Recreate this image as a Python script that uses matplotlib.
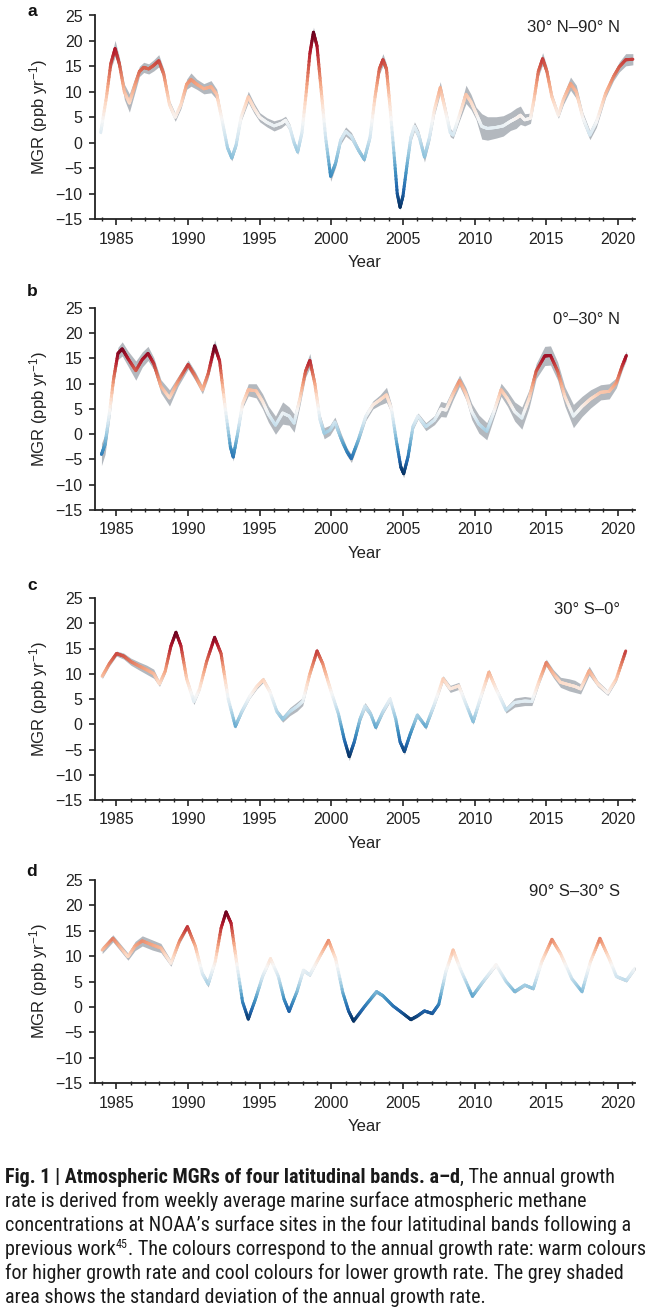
import numpy as np
import matplotlib
matplotlib.use("Agg")
import matplotlib.pyplot as plt
from matplotlib import font_manager
from matplotlib.collections import LineCollection
from matplotlib.colors import Normalize

plt.rcParams['font.family'] = ['Liberation Sans', 'DejaVu Sans']
plt.rcParams['mathtext.fontset'] = 'custom'
plt.rcParams['mathtext.rm'] = 'Liberation Sans'
plt.rcParams['mathtext.default'] = 'regular'

# ---- data: year, growth rate (ppb/yr), std dev ----
years_a = [1983.9, 1984.3, 1984.6, 1984.9, 1985.2, 1985.55, 1985.9, 1986.25, 1986.6, 1986.9,
           1987.25, 1987.6, 1987.95, 1988.3, 1988.7, 1989.1, 1989.5, 1989.9, 1990.2, 1990.6,
           1991.1, 1991.6, 1992.0, 1992.4, 1992.75, 1993.05, 1993.35, 1993.7, 1994.2, 1994.6,
           1995.0, 1995.5, 1996.0, 1996.5, 1996.8, 1997.1, 1997.4, 1997.65, 1997.95, 1998.25,
           1998.5, 1998.75, 1999.0, 1999.3, 1999.6, 1999.95, 2000.3, 2000.65, 2001.0, 2001.4,
           2001.9, 2002.3, 2002.7, 2003.05, 2003.35, 2003.6, 2003.85, 2004.1, 2004.4, 2004.6,
           2004.8, 2005.0, 2005.3, 2005.55, 2005.8, 2006.1, 2006.5, 2006.85, 2007.2, 2007.6,
           2007.95, 2008.3, 2008.5, 2008.9, 2009.4, 2009.75, 2010.1, 2010.5, 2010.9, 2011.5,
           2012.0, 2012.5, 2012.9, 2013.2, 2013.5, 2013.9, 2014.15, 2014.45, 2014.75, 2015.05,
           2015.4, 2015.85, 2016.2, 2016.7, 2017.1, 2017.55, 2018.05, 2018.5, 2019.15, 2019.7,
           2020.1, 2020.55, 2021.05]
mgr_a = [2.0, 9.0, 15.5, 18.5, 15.5, 10.0, 7.8, 11.0, 14.0, 14.8,
         14.5, 15.2, 16.1, 13.5, 7.5, 5.0, 7.5, 11.5, 12.4, 11.5,
         10.6, 11.0, 9.5, 4.0, -1.0, -3.0, -0.5, 5.0, 9.0, 6.8,
         5.0, 4.0, 3.3, 3.8, 4.4, 3.0, 0.0, -1.8, 2.0, 10.0,
         17.5, 21.7, 19.0, 10.0, 1.0, -6.6, -4.0, 0.5, 2.2, 1.2,
         -1.5, -3.3, 1.0, 9.0, 14.5, 16.3, 14.5, 7.0, -3.0, -10.0,
         -12.7, -10.5, -4.0, 1.0, 3.2, 1.5, -2.8, 1.0, 6.5, 10.8,
         6.5, 2.0, 1.5, 5.0, 9.5, 8.0, 5.8, 3.2, 2.8, 3.0,
         3.3, 4.2, 4.8, 5.4, 4.5, 4.8, 8.5, 14.0, 16.5, 14.0,
         9.0, 5.4, 8.5, 11.6, 10.0, 5.0, 1.5, 4.0, 9.7, 13.0,
         14.9, 16.3, 16.4]
sd_a = [0.3, 0.5, 1.0, 1.6, 1.3, 1.5, 1.8, 1.5, 1.0, 1.0,
        1.0, 1.1, 1.2, 1.0, 0.8, 0.8, 0.8, 1.0, 1.3, 1.0,
        1.0, 1.2, 1.0, 0.6, 0.5, 0.6, 0.5, 0.7, 1.1, 1.0,
        0.9, 0.9, 1.0, 0.9, 0.8, 0.7, 0.5, 0.5, 0.5, 0.7,
        0.9, 1.0, 0.9, 0.7, 0.8, 1.0, 0.8, 0.8, 0.9, 0.8,
        0.6, 0.5, 0.5, 0.8, 1.0, 1.2, 1.0, 0.8, 0.6, 0.5,
        0.5, 0.5, 0.6, 0.8, 0.9, 0.9, 1.0, 0.9, 1.0, 1.2,
        1.0, 0.8, 0.7, 1.0, 1.8, 1.5, 1.2, 2.5, 2.3, 2.1,
        2.0, 1.8, 2.0, 1.8, 1.2, 1.0, 0.9, 1.0, 1.2, 1.0,
        0.8, 0.6, 1.0, 1.3, 1.3, 1.0, 0.9, 1.0, 0.8, 0.8,
        1.0, 1.2, 1.1]

years_b = [1983.95, 1984.2, 1984.5, 1984.8, 1985.1, 1985.4, 1985.8, 1986.35, 1986.8, 1987.2,
           1987.6, 1988.1, 1988.7, 1989.3, 1990.0, 1990.5, 1991.0, 1991.4, 1991.85, 1992.2,
           1992.6, 1992.95, 1993.15, 1993.45, 1993.8, 1994.2, 1994.75, 1995.2, 1995.6, 1996.1,
           1996.6, 1997.05, 1997.4, 1997.8, 1998.2, 1998.5, 1998.85, 1999.2, 1999.5, 1999.9,
           2000.25, 2000.7, 2001.1, 2001.4, 2001.9, 2002.4, 2002.9, 2003.4, 2003.85, 2004.2,
           2004.55, 2004.85, 2005.05, 2005.35, 2005.7, 2006.05, 2006.6, 2007.2, 2007.65, 2008.0,
           2008.5, 2008.95, 2009.4, 2009.8, 2010.3, 2010.85, 2011.3, 2011.85, 2012.3, 2012.8,
           2013.3, 2013.8, 2014.3, 2014.9, 2015.3, 2015.8, 2016.3, 2016.9, 2017.5, 2018.1,
           2018.8, 2019.4, 2019.9, 2020.3, 2020.6]
mgr_b = [-4.0, -2.0, 4.0, 11.0, 16.0, 16.9, 15.0, 12.6, 14.8, 16.0,
         14.0, 9.5, 7.2, 10.5, 13.8, 11.5, 8.8, 12.0, 17.5, 14.5,
         5.0, -2.5, -4.5, 0.0, 6.0, 8.8, 8.6, 6.5, 4.0, 1.8,
         4.2, 3.6, 2.2, 7.0, 12.5, 14.6, 10.0, 3.0, 0.2, 0.8,
         2.4, -1.0, -3.5, -4.8, -1.0, 3.5, 5.8, 6.8, 7.8, 5.0,
         -1.5, -6.5, -7.8, -4.5, 1.5, 3.6, 1.5, 2.8, 5.0, 4.8,
         8.0, 10.6, 8.0, 4.5, 2.0, 0.6, 4.0, 8.8, 7.0, 4.5,
         3.2, 7.0, 12.5, 15.5, 15.6, 12.5, 7.5, 3.6, 5.5, 7.0,
         8.3, 8.5, 10.2, 13.5, 15.6]
sd_b = [2.2, 2.0, 1.5, 1.2, 1.2, 1.4, 1.5, 1.9, 1.5, 1.4,
        1.2, 1.3, 1.6, 1.0, 0.9, 0.9, 0.8, 0.9, 1.2, 0.9,
        0.6, 0.6, 0.8, 0.7, 0.8, 1.2, 1.4, 1.5, 1.6, 1.8,
        2.2, 1.8, 1.8, 1.4, 1.2, 1.4, 1.0, 1.0, 1.1, 1.0,
        1.0, 1.0, 0.8, 0.8, 0.7, 0.8, 0.8, 1.0, 1.5, 0.9,
        0.7, 0.7, 0.8, 0.7, 0.6, 0.6, 0.8, 0.9, 1.5, 1.4,
        1.2, 1.1, 1.2, 1.6, 1.8, 1.7, 1.2, 1.3, 1.5, 1.9,
        2.2, 1.8, 1.5, 1.9, 1.9, 1.8, 1.9, 2.3, 2.0, 1.8,
        1.5, 1.5, 1.0, 0.9, 0.9]

years_c = [1984.0, 1984.5, 1985.0, 1985.5, 1986.0, 1986.6, 1987.1, 1987.6, 1988.0, 1988.4,
           1988.8, 1989.15, 1989.5, 1989.9, 1990.4, 1990.8, 1991.3, 1991.85, 1992.3, 1992.8,
           1993.3, 1993.75, 1994.3, 1994.8, 1995.25, 1995.7, 1996.2, 1996.6, 1997.1, 1997.6,
           1998.0, 1998.5, 1999.0, 1999.4, 1999.95, 2000.5, 2000.9, 2001.25, 2001.6, 2002.0,
           2002.35, 2002.75, 2003.1, 2003.6, 2004.1, 2004.5, 2004.8, 2005.1, 2005.5, 2006.0,
           2006.6, 2007.2, 2007.8, 2008.3, 2008.9, 2009.4, 2009.9, 2010.5, 2011.0, 2011.5,
           2012.2, 2012.8, 2013.5, 2014.0, 2014.5, 2015.0, 2015.5, 2016.0, 2016.6, 2017.0,
           2017.4, 2018.0, 2018.6, 2019.3, 2019.9, 2020.55]
mgr_c = [9.5, 12.0, 14.0, 13.5, 12.4, 11.5, 10.8, 10.0, 8.0, 10.5,
         15.5, 18.2, 15.5, 9.0, 4.5, 7.0, 12.5, 17.2, 14.0, 5.0,
         -0.4, 2.5, 5.5, 7.5, 8.8, 6.5, 2.5, 1.0, 2.5, 3.5,
         4.5, 10.0, 14.5, 12.0, 6.8, 2.0, -3.0, -6.4, -3.5, 1.0,
         3.6, 2.0, -0.6, 2.5, 5.0, 1.0, -3.5, -5.4, -2.0, 1.8,
         -0.5, 4.0, 9.0, 7.0, 7.6, 4.0, 0.5, 6.0, 10.3, 7.0,
         2.8, 4.3, 4.6, 4.5, 8.5, 12.2, 10.0, 8.3, 7.8, 7.5,
         7.0, 10.6, 8.0, 6.2, 9.0, 14.5]
sd_c = [0.5, 0.5, 0.5, 0.6, 0.7, 0.8, 0.9, 0.9, 0.5, 0.5,
        0.6, 0.6, 0.5, 0.5, 0.6, 0.4, 0.5, 0.6, 0.5, 0.4,
        0.4, 0.4, 0.4, 0.5, 0.5, 0.5, 0.5, 0.6, 0.8, 0.9,
        0.8, 0.6, 0.6, 0.5, 0.5, 0.5, 0.6, 0.8, 0.6, 0.6,
        0.7, 0.6, 0.5, 0.5, 0.5, 0.5, 0.5, 0.6, 0.5, 0.5,
        0.5, 0.5, 0.6, 0.7, 0.7, 0.5, 0.5, 0.5, 0.6, 0.5,
        0.6, 0.9, 0.9, 0.8, 0.6, 0.7, 0.8, 1.0, 1.2, 1.2,
        1.0, 0.9, 0.6, 0.5, 0.5, 0.6]

years_d = [1984.0, 1984.75, 1985.8, 1986.3, 1986.8, 1987.5, 1988.1, 1988.8, 1989.4, 1989.95,
           1990.5, 1991.0, 1991.4, 1991.9, 1992.3, 1992.65, 1993.0, 1993.4, 1993.8, 1994.2,
           1994.7, 1995.2, 1995.75, 1996.3, 1996.7, 1997.05, 1997.6, 1998.05, 1998.5, 1999.1,
           1999.8, 2000.3, 2000.8, 2001.2, 2001.55, 2002.3, 2003.15, 2003.6, 2004.3, 2005.0,
           2005.55, 2006.0, 2006.5, 2007.05, 2007.5, 2008.0, 2008.5, 2009.0, 2009.85, 2010.6,
           2011.5, 2012.2, 2012.8, 2013.5, 2014.1, 2014.7, 2015.4, 2016.0, 2016.8, 2017.5,
           2018.1, 2018.75, 2019.4, 2019.9, 2020.6, 2021.2]
mgr_d = [11.2, 13.5, 9.9, 12.0, 13.0, 12.2, 11.6, 8.6, 13.0, 15.8,
         12.0, 6.5, 4.5, 9.0, 15.5, 18.7, 16.5, 8.5, 1.0, -2.4,
         1.5, 6.0, 9.5, 6.0, 1.5, -0.9, 3.0, 7.2, 6.3, 9.5,
         13.1, 9.5, 2.8, -0.8, -2.8, 0.0, 3.0, 2.2, 0.2, -1.3,
         -2.5, -1.8, -0.8, -1.3, 0.5, 7.0, 11.2, 7.5, 2.1, 5.0,
         8.3, 5.0, 3.0, 4.3, 3.6, 9.0, 13.3, 10.5, 5.5, 3.0,
         9.0, 13.5, 9.5, 6.0, 5.2, 7.6]
sd_d = [0.7, 0.7, 0.7, 0.9, 1.0, 1.0, 0.9, 0.6, 0.5, 0.5,
        0.4, 0.5, 0.6, 0.4, 0.4, 0.5, 0.4, 0.4, 0.4, 0.4,
        0.3, 0.3, 0.4, 0.3, 0.3, 0.3, 0.3, 0.4, 0.3, 0.3,
        0.4, 0.3, 0.3, 0.3, 0.4, 0.3, 0.4, 0.3, 0.3, 0.3,
        0.3, 0.3, 0.3, 0.3, 0.3, 0.3, 0.4, 0.3, 0.3, 0.3,
        0.3, 0.3, 0.3, 0.3, 0.3, 0.3, 0.4, 0.3, 0.3, 0.3,
        0.3, 0.4, 0.3, 0.3, 0.3, 0.3]

panel_letters = ['a', 'b', 'c', 'd']
bands = ['30° N–90° N', '0°–30° N', '30° S–0°', '90° S–30° S']
series = [(years_a, mgr_a, sd_a), (years_b, mgr_b, sd_b),
          (years_c, mgr_c, sd_c), (years_d, mgr_d, sd_d)]

# axes boxes in pixels (top, bottom) for a 650x1314 canvas
W, H = 650, 1314
boxes = [(15.5, 219), (308, 510), (598, 800), (880, 1083)]
letter_y = [12, 291, 585, 872]
x_left, x_right = 95, 635


def gradient_line(ax, x, y, norm):
    # draw the polyline in short pieces so the colour follows the value
    x = np.asarray(x)
    y = np.asarray(y)
    segs, vals = [], []
    for i in range(len(x) - 1):
        t = np.linspace(0, 1, 11)
        xs = x[i] + (x[i + 1] - x[i]) * t
        ys = y[i] + (y[i + 1] - y[i]) * t
        for j in range(len(t) - 1):
            segs.append([(xs[j], ys[j]), (xs[j + 1], ys[j + 1])])
            vals.append(0.5 * (ys[j] + ys[j + 1]))
    lc = LineCollection(segs, cmap='RdBu_r', norm=norm, linewidths=2.2,
                        capstyle='round', joinstyle='round', zorder=3)
    lc.set_array(np.array(vals))
    ax.add_collection(lc)


fig = plt.figure(figsize=(6.5, 13.14), dpi=100)

for k in range(4):
    top, bot = boxes[k]
    ax = fig.add_axes([x_left / W, 1 - bot / H, (x_right - x_left) / W, (bot - top) / H])
    yrs, mgr, sd = series[k]
    yrs = np.array(yrs)
    mgr = np.array(mgr)
    sd = np.array(sd)

    ax.fill_between(yrs, mgr - sd, mgr + sd, color='#8a929c', alpha=0.65, lw=0, zorder=2)
    norm = Normalize(vmin=mgr.min(), vmax=mgr.max())
    gradient_line(ax, yrs, mgr, norm)

    ax.set_xlim(1983.5, 2021.2)
    ax.set_ylim(-15, 25)
    ax.set_yticks(range(-15, 26, 5))
    ax.set_xticks(range(1985, 2021, 5))
    ax.set_xticks(range(1984, 2022), minor=True)
    for s in ['top', 'right']:
        ax.spines[s].set_visible(False)
    for s in ['left', 'bottom']:
        ax.spines[s].set_linewidth(1.3)
        ax.spines[s].set_color('#222222')
    ax.tick_params(axis='both', which='major', direction='out', length=4, width=1.2,
                   colors='#222222', labelsize=11.5, pad=5)
    ax.tick_params(axis='x', which='minor', direction='inout', length=3, width=1.0,
                   colors='#222222')
    ax.set_xlabel('Year', fontsize=12, labelpad=6, color='#222222')
    ax.set_ylabel('MGR (ppb yr$^{-1}$)', fontsize=12, labelpad=4, color='#222222')
    ax.text(0.972, 0.943, bands[k], transform=ax.transAxes, ha='right', va='center',
            fontsize=12, color='#222222')
    fig.text(32 / W, 1 - letter_y[k] / H, panel_letters[k], fontsize=12.5,
             fontweight='bold', ha='center', va='center', color='#111111')

# caption: use a narrow face if one is installed, otherwise fit the size
names = set(f.name for f in font_manager.fontManager.ttflist)
cap_family = 'Liberation Sans'
for nm in ['Liberation Sans Narrow', 'DejaVu Sans Condensed', 'Roboto Condensed',
           'Open Sans Condensed', 'Noto Sans Condensed']:
    if nm in names:
        cap_family = nm
        break
cap_font = [cap_family, 'DejaVu Sans']
renderer = fig.canvas.get_renderer()

lines = [
    [('Fig. 1 | Atmospheric MGRs of four latitudinal bands. a–d', 'bold', 0),
     (', The annual growth', 'normal', 0)],
    [('rate is derived from weekly average marine surface atmospheric methane', 'normal', 0)],
    [('concentrations at NOAA’s surface sites in the four latitudinal bands following a', 'normal', 0)],
    [('previous work', 'normal', 0), ('45', 'normal', 1),
     ('. The colours correspond to the annual growth rate: warm colours', 'normal', 0)],
    [('for higher growth rate and cool colours for lower growth rate. The grey shaded', 'normal', 0)],
    [('area shows the standard deviation of the annual growth rate.', 'normal', 0)],
]


def put_runs(ypix, runs, size, draw=True):
    x = 5
    made = []
    for txt, weight, sup in runs:
        fs = size * 0.6 if sup else size
        yy = ypix - 0.45 * size if sup else ypix
        t = fig.text(x / W, 1 - yy / H, txt, family=cap_font, fontsize=fs,
                     fontweight=weight, color='#1a1a1a', va='baseline')
        x = t.get_window_extent(renderer).x1
        made.append(t)
    if not draw:
        for t in made:
            t.remove()
    return x


# widest line should end near x = 644 px, as in the reference
widest = max(put_runs(0, r, 12, draw=False) for r in lines)
cap_size = min(16, 12 * (644 - 5) / (widest - 5))

for i, runs in enumerate(lines):
    put_runs(1183 + 24 * i, runs, cap_size)

fig.savefig('out.png', dpi=100)
